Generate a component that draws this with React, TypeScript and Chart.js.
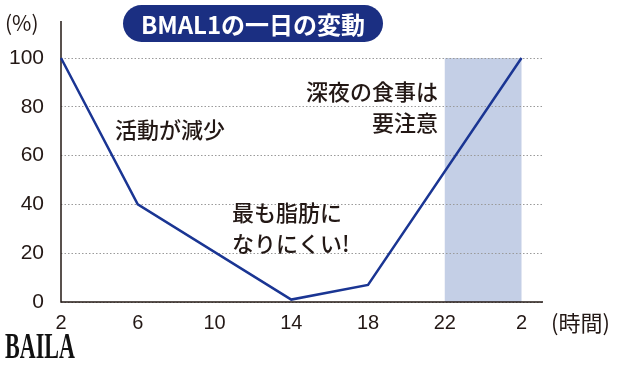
import React, { useEffect, useRef } from "react";
import { Chart, registerables } from "chart.js";

Chart.register(...registerables);

// ---- data ----
const hourLabels = ["2", "6", "10", "14", "18", "22", "2"];
const bmalPercent: (number | null)[] = [100, 40, null, 1, 7, null, 100];
const yTicks = [0, 20, 40, 60, 80, 100];
const nightBand = [5, 6]; // category index range shaded (22時〜2時)
const titleText = "BMAL1の一日の変動";
const yUnit = "(%)";
const xUnit = "(時間)";
const notes = [
  { lines: ["活動が減少"], x: 115, y: 130, align: "left" },
  { lines: ["深夜の食事は", "要注意"], x: 438, y: 92, align: "right" },
  { lines: ["最も脂肪に", "なりにくい!"], x: 232, y: 213, align: "left" },
];

const NAVY = "#1b2f82";
const LINE = "#1a3593";
const INK = "#231815";
const JP = '"Noto Sans CJK JP", "Noto Sans", sans-serif';
const NUM = '"Liberation Sans", Arial, sans-serif';

export default function App() {
  const ref = useRef<HTMLCanvasElement>(null);

  useEffect(() => {
    const canvas = ref.current!;
    const points = bmalPercent
      .map((v, i) => (v === null ? null : { x: i, y: v }))
      .filter((p) => p !== null) as { x: number; y: number }[];

    const decor = {
      id: "decor",
      beforeDraw(chart: any) {
        const { ctx, scales } = chart;
        const x = scales.x, y = scales.y;
        ctx.save();
        ctx.fillStyle = "#c4cfe6";
        const x0 = x.getPixelForValue(nightBand[0]);
        const x1 = x.getPixelForValue(nightBand[1]);
        const t = y.getPixelForValue(100);
        const b = y.getPixelForValue(0);
        ctx.fillRect(x0, t, x1 - x0, b - t);
        ctx.restore();
      },
      beforeDatasetsDraw(chart: any) {
        const { ctx, chartArea } = chart;
        ctx.save();
        ctx.strokeStyle = INK;
        ctx.lineWidth = 1.5;
        ctx.beginPath();
        ctx.moveTo(chartArea.left, 21);
        ctx.lineTo(chartArea.left, chartArea.bottom);
        ctx.lineTo(chartArea.right, chartArea.bottom);
        ctx.stroke();
        ctx.restore();
      },
      afterDraw(chart: any) {
        const { ctx } = chart;
        ctx.save();
        // title pill
        const px = 123, py = 5, pw = 260, ph = 37, r = ph / 2;
        ctx.fillStyle = NAVY;
        ctx.beginPath();
        ctx.moveTo(px + r, py);
        ctx.lineTo(px + pw - r, py);
        ctx.arc(px + pw - r, py + r, r, -Math.PI / 2, Math.PI / 2);
        ctx.lineTo(px + r, py + ph);
        ctx.arc(px + r, py + r, r, Math.PI / 2, (3 * Math.PI) / 2);
        ctx.closePath();
        ctx.fill();
        ctx.fillStyle = "#ffffff";
        ctx.font = `bold 24px ${JP}`;
        ctx.textAlign = "center";
        ctx.textBaseline = "middle";
        ctx.fillText(titleText, px + pw / 2, py + ph / 2 + 1);

        // units
        ctx.fillStyle = INK;
        ctx.font = `21px ${JP}`;
        ctx.textAlign = "left";
        ctx.fillText(yUnit, 5, 23);
        ctx.font = `22px ${JP}`;
        ctx.fillText(xUnit, 551, 323);

        // notes
        ctx.font = `500 22px ${JP}`;
        ctx.textBaseline = "middle";
        notes.forEach((n) => {
          ctx.textAlign = n.align as CanvasTextAlign;
          n.lines.forEach((l, i) => ctx.fillText(l, n.x, n.y + i * 31));
        });

        // logo
        ctx.save();
        ctx.translate(5, 358);
        ctx.scale(0.63, 1);
        ctx.font = `bold 35px "Liberation Serif", "DejaVu Serif", serif`;
        ctx.textAlign = "left";
        ctx.textBaseline = "alphabetic";
        ctx.fillStyle = "#111";
        ctx.fillText("BAILA", 0, 0);
        ctx.restore();
        ctx.restore();
      },
    };

    const chart = new Chart(canvas, {
      type: "line",
      data: {
        datasets: [
          {
            data: points,
            borderColor: LINE,
            borderWidth: 2.5,
            pointRadius: 0,
            tension: 0,
            clip: false as any,
          },
        ],
      },
      options: {
        animation: false,
        responsive: false,
        maintainAspectRatio: false,
        events: [],
        layout: { padding: { left: 0, top: 58, right: 78, bottom: 0 } },
        plugins: { legend: { display: false }, tooltip: { enabled: false } },
        scales: {
          x: {
            type: "linear",
            min: 0,
            max: 6.28,
            afterBuildTicks: (s: any) => {
              s.ticks = hourLabels.map((_, i) => ({ value: i }));
            },
            afterFit: (s: any) => {
              s.height = 70;
            },
            grid: { display: false, drawTicks: false },
            border: { display: false },
            ticks: {
              autoSkip: false,
              maxRotation: 0,
              padding: 9,
              color: INK,
              font: { family: NUM, size: 20 },
              callback: (v: any) => hourLabels[v] ?? "",
            },
          },
          y: {
            min: 0,
            max: 100,
            afterBuildTicks: (s: any) => {
              s.ticks = yTicks.map((v) => ({ value: v }));
            },
            afterFit: (s: any) => {
              s.width = 61;
            },
            grid: { color: "#9a9a9a", lineWidth: 1, drawTicks: false },
            border: { display: false, dash: [1.5, 2] },
            ticks: {
              padding: 17,
              color: INK,
              font: { family: NUM, size: 21 },
            },
          },
        },
      },
      plugins: [decor],
    });
    return () => chart.destroy();
  }, []);

  return (
    <canvas
      ref={ref}
      width={621}
      height={372}
      style={{ position: "absolute", left: 0, top: 0, width: 621, height: 372 }}
    />
  );
}
